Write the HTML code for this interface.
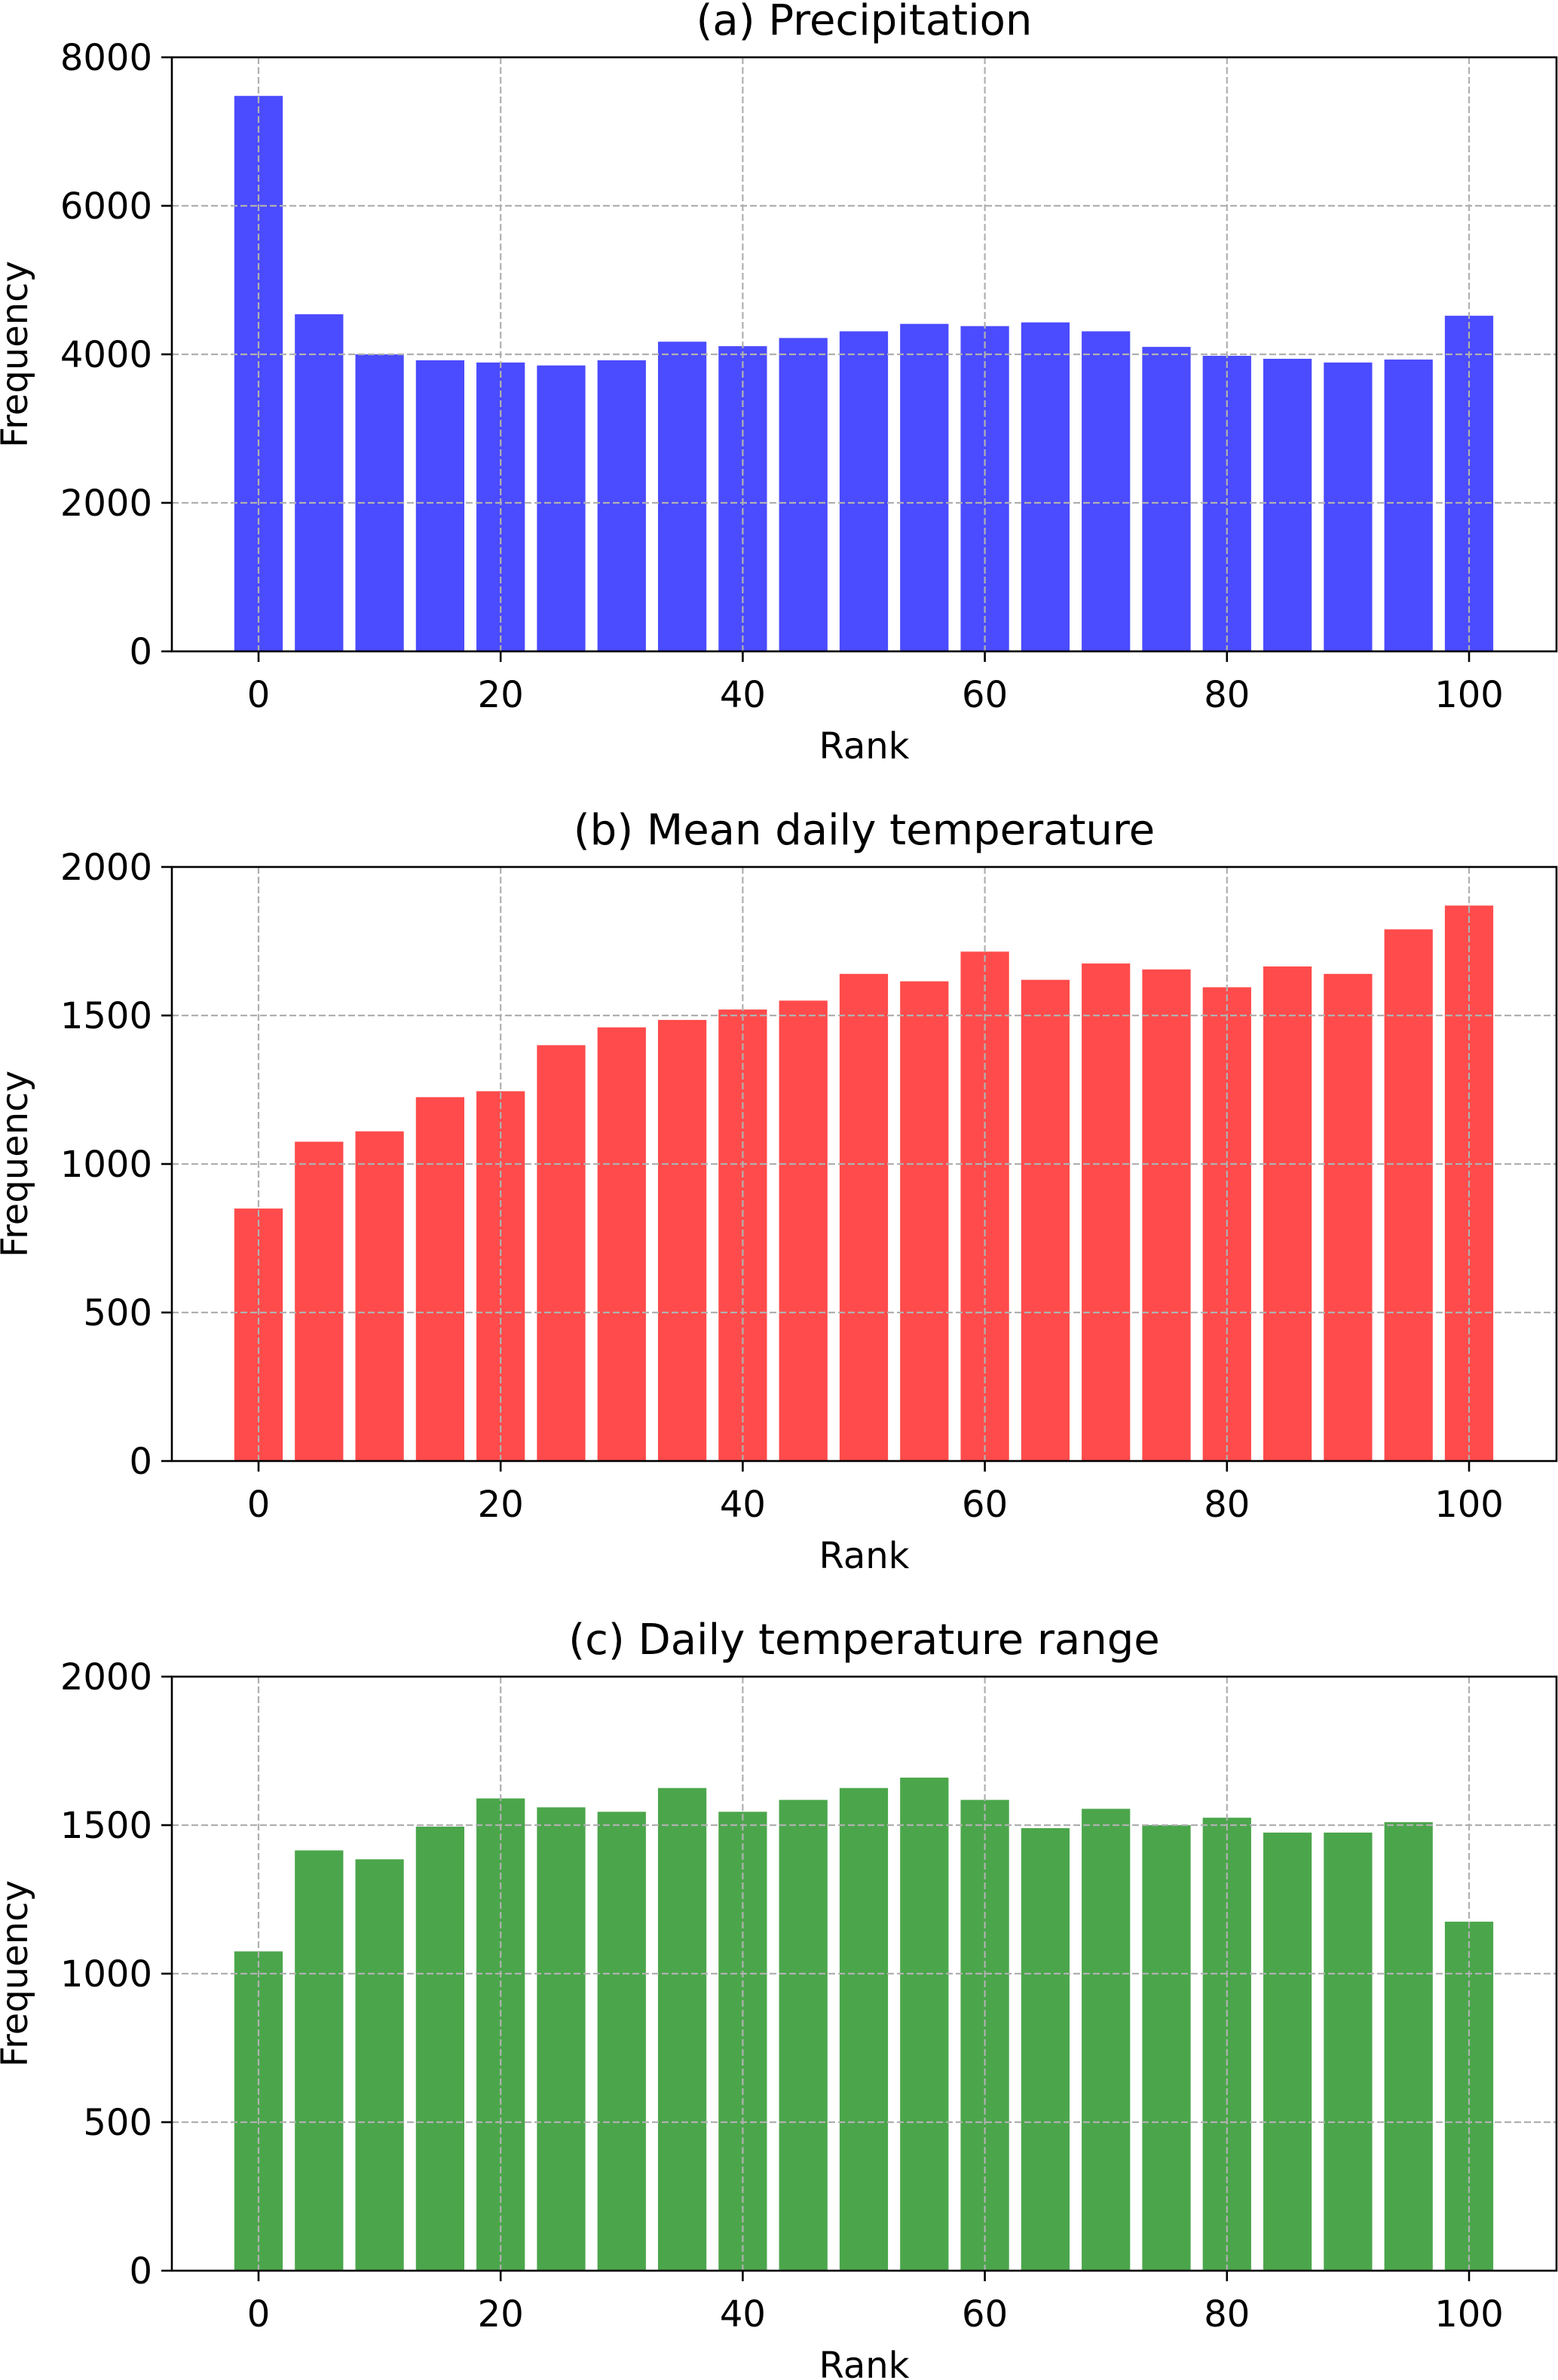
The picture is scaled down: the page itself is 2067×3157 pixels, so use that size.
<!DOCTYPE html>
<html><head><meta charset="utf-8"><style>
html,body{margin:0;padding:0;background:#fff;}
svg{display:block;font-family:"DejaVu Sans","Liberation Sans",sans-serif;}
</style></head><body>
<svg id="fig" width="2067" height="3157" viewBox="0 0 2067 3157" xmlns="http://www.w3.org/2000/svg"></svg>
<script>
const ranks = [0,5,10,15,20,25,30,35,40,45,50,55,60,65,70,75,80,85,90,95,100];
const precipValues = [7480,4540,4000,3920,3890,3850,3920,4170,4110,4220,4310,4410,4380,4430,4310,4100,3980,3940,3890,3930,4520];
const meanTempValues = [850,1075,1110,1225,1245,1400,1460,1485,1520,1550,1640,1615,1715,1620,1675,1655,1595,1665,1640,1790,1870];
const rangeTempValues = [1075,1415,1385,1495,1590,1560,1545,1625,1545,1585,1625,1660,1585,1490,1555,1500,1525,1475,1475,1510,1175];
const xTicks = [0,20,40,60,80,100];
const yTicksA = [0,2000,4000,6000,8000];
const yTicksBC = [0,500,1000,1500,2000];
const titles = ["(a) Precipitation","(b) Mean daily temperature","(c) Daily temperature range"];

const NS = "http://www.w3.org/2000/svg";
const svg = document.getElementById('fig');
function mk(tag, attrs, parent){const e=document.createElementNS(NS,tag);for(const k in attrs)e.setAttribute(k,attrs[k]);(parent||svg).appendChild(e);return e;}

const L=228,R=2065,X0=343,PXU=16.06,BW=4;
function xs(v){return X0+v*PXU;}

const panels=[
 {top:76,bot:864,vals:precipValues,ticks:yTicksA,ymax:8000,color:"#4b4bff",key:"precipitation"},
 {top:1150,bot:1938,vals:meanTempValues,ticks:yTicksBC,ymax:2000,color:"#ff4b4b",key:"mean-temperature"},
 {top:2224,bot:3012,vals:rangeTempValues,ticks:yTicksBC,ymax:2000,color:"#4ba64b",key:"temperature-range"}
];

panels.forEach((p,pi)=>{
  const g=mk('g',{});
  
  
  const ys=v=>p.bot-(v/p.ymax)*(p.bot-p.top);
  p.vals.forEach((v,i)=>{
    const x=xs(ranks[i]-BW/2), w=BW*PXU;
    const r=mk('rect',{x:x,y:ys(v),width:w,height:p.bot-ys(v),fill:p.color},g);
    
    
  });
  xTicks.forEach(t=>{
    const l=mk('line',{x1:xs(t),x2:xs(t),y1:p.top,y2:p.bot,stroke:"#b0b0b0","stroke-width":2.2,"stroke-dasharray":"9,4"},g);
    
    
    const tk=mk('line',{x1:xs(t),x2:xs(t),y1:p.bot,y2:p.bot+14,stroke:"#000","stroke-width":2.6},g);
    
    
    const tx=mk('text',{x:xs(t),y:p.bot+74,"font-size":48,"text-anchor":"middle"},g);
    tx.textContent=t;
    
    
  });
  p.ticks.forEach(t=>{
    const y=ys(t);
    if(t>0&&t<p.ymax){
      const l=mk('line',{x1:L,x2:R,y1:y,y2:y,stroke:"#b0b0b0","stroke-width":2.2,"stroke-dasharray":"9,4"},g);
      
      
    }
    const tk=mk('line',{x1:L-14,x2:L,y1:y,y2:y,stroke:"#000","stroke-width":2.6},g);
    
    
    const tx=mk('text',{x:L-26,y:y+17,"font-size":48,"text-anchor":"end"},g);
    tx.textContent=t;
    
    
  });
  const fr=mk('rect',{x:L,y:p.top,width:R-L,height:p.bot-p.top,fill:"none",stroke:"#000","stroke-width":2.6},g);
  
  
  const ti=mk('text',{x:(L+R)/2,y:p.top-30,"font-size":56,"text-anchor":"middle"},g);
  ti.textContent=titles[pi];
  
  
  const xl=mk('text',{x:(L+R)/2,y:p.bot+142,"font-size":48,"text-anchor":"middle"},g);
  xl.textContent="Rank";
  
  
  const cy=(p.top+p.bot)/2;
  const yl=mk('text',{x:0,y:0,"font-size":48,"text-anchor":"middle",transform:`translate(36,${cy}) rotate(-90)`},g);
  yl.textContent="Frequency";
  
  
});
</script>
</body></html>
